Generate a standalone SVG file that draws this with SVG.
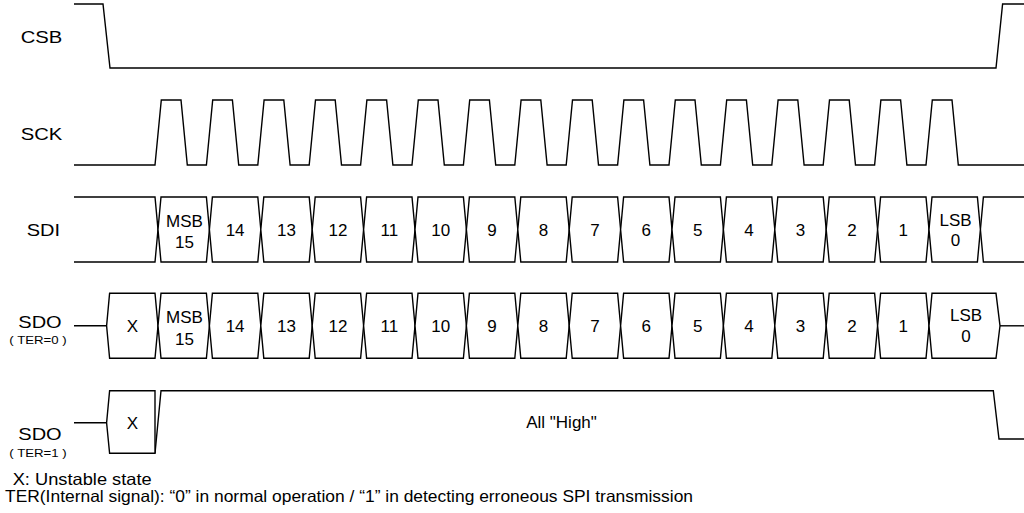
<svg xmlns="http://www.w3.org/2000/svg" xmlns:xlink="http://www.w3.org/1999/xlink" width="1024" height="513" viewBox="0 0 1024 513">
  <style>
    .w { fill: none; stroke: #000; stroke-width: 1.4; stroke-linejoin: miter; }
    .c { fill: #fff; stroke: #000; stroke-width: 1.4; }
    .lbl { font-family: "Liberation Sans", Arial, sans-serif; font-size: 17px; fill: #000; }
    .sub { font-family: "Liberation Sans", Arial, sans-serif; font-size: 11px; fill: #000; }
    .cl { font-family: "Liberation Sans", Arial, sans-serif; font-size: 17px; fill: #000; text-anchor: middle; }
    .ft { font-family: "Liberation Sans", Arial, sans-serif; font-size: 16.5px; fill: #000; }
  </style>
  <defs>
    <polygon id="cell" points="0,0 3,-32.5 48.4,-32.5 51.4,0 48.4,32.5 3,32.5"/>
  </defs>
  <rect width="1024" height="513" fill="#fff"/>

  <g id="labels">
    <text class="lbl" x="20.7" y="43.3" textLength="41.6" lengthAdjust="spacingAndGlyphs">CSB</text>
    <text class="lbl" x="20.7" y="140" textLength="41.6" lengthAdjust="spacingAndGlyphs">SCK</text>
    <text class="lbl" x="26.7" y="236" textLength="33.3" lengthAdjust="spacingAndGlyphs">SDI</text>
    <text class="lbl" x="18.3" y="328.3" textLength="43.4" lengthAdjust="spacingAndGlyphs">SDO</text>
    <text class="sub" x="9.3" y="344" textLength="57.4" lengthAdjust="spacingAndGlyphs">( TER=0 )</text>
    <text class="lbl" x="18.3" y="440" textLength="43.4" lengthAdjust="spacingAndGlyphs">SDO</text>
    <text class="sub" x="9.3" y="457.3" textLength="57.4" lengthAdjust="spacingAndGlyphs">( TER=1 )</text>
  </g>

  <g id="connectors">
    <g id="csb">
      <path class="w" d="M74,4 L103,4 L110,68 L996,68 L1002.6,4 L1024,4"/>
    </g>
    <g id="sck">
      <path class="w" d="M74,165 L155,165 L161.3,100 L181,100 L187.3,165 L206.4,165 L212.7,100 L232.4,100 L238.7,165 L257.8,165 L264.1,100 L283.8,100 L290.1,165 L309.2,165 L315.5,100 L335.2,100 L341.5,165 L360.6,165 L366.9,100 L386.6,100 L392.9,165 L412,165 L418.3,100 L438,100 L444.3,165 L463.4,165 L469.7,100 L489.4,100 L495.7,165 L514.8,165 L521.1,100 L540.8,100 L547.1,165 L566.2,165 L572.5,100 L592.2,100 L598.5,165 L617.6,165 L623.9,100 L643.6,100 L649.9,165 L669,165 L675.3,100 L695,100 L701.3,165 L720.4,165 L726.7,100 L746.4,100 L752.7,165 L771.8,165 L778.1,100 L797.8,100 L804.1,165 L823.2,165 L829.5,100 L849.2,100 L855.5,165 L874.6,165 L880.9,100 L900.6,100 L906.9,165 L926,165 L932.3,100 L952,100 L958.3,165 L1024,165"/>
    </g>
    <g id="sdi-wave">
      <path class="w" d="M74,197 L155,197 L158,229.5 L155,262 L74,262"/>
      <path class="w" d="M1024,197 L983.4,197 L980.4,229.5 L983.4,262 L1024,262"/>
    </g>
    <g id="sdo0-wave">
      <path class="w" d="M74,325.8 L106.6,325.8"/>
      <path class="w" d="M1000,325.8 L1024,325.8"/>
    </g>
    <g id="sdo1-wave">
      <path class="w" d="M74,422.7 L106.6,422.7"/>
      <path class="w" d="M155,453.3 L161,390.7 L993.3,390.7 L999,439 L1024,439"/>
    </g>
  </g>

  <g id="sdi">
    <use xlink:href="#cell" href="#cell" class="c" x="158" y="229.5"/>
    <use xlink:href="#cell" href="#cell" class="c" x="209.4" y="229.5"/>
    <use xlink:href="#cell" href="#cell" class="c" x="260.8" y="229.5"/>
    <use xlink:href="#cell" href="#cell" class="c" x="312.2" y="229.5"/>
    <use xlink:href="#cell" href="#cell" class="c" x="363.6" y="229.5"/>
    <use xlink:href="#cell" href="#cell" class="c" x="415" y="229.5"/>
    <use xlink:href="#cell" href="#cell" class="c" x="466.4" y="229.5"/>
    <use xlink:href="#cell" href="#cell" class="c" x="517.8" y="229.5"/>
    <use xlink:href="#cell" href="#cell" class="c" x="569.2" y="229.5"/>
    <use xlink:href="#cell" href="#cell" class="c" x="620.6" y="229.5"/>
    <use xlink:href="#cell" href="#cell" class="c" x="672" y="229.5"/>
    <use xlink:href="#cell" href="#cell" class="c" x="723.4" y="229.5"/>
    <use xlink:href="#cell" href="#cell" class="c" x="774.8" y="229.5"/>
    <use xlink:href="#cell" href="#cell" class="c" x="826.2" y="229.5"/>
    <use xlink:href="#cell" href="#cell" class="c" x="877.6" y="229.5"/>
    <use xlink:href="#cell" href="#cell" class="c" x="929" y="229.5"/>
    <text class="cl" x="184.5" y="226.5">MSB</text>
    <text class="cl" x="184.5" y="248">15</text>
    <text class="cl" x="235.1" y="236">14</text>
    <text class="cl" x="286.5" y="236">13</text>
    <text class="cl" x="337.9" y="236">12</text>
    <text class="cl" x="389.3" y="236">11</text>
    <text class="cl" x="440.7" y="236">10</text>
    <text class="cl" x="492.1" y="236">9</text>
    <text class="cl" x="543.5" y="236">8</text>
    <text class="cl" x="594.9" y="236">7</text>
    <text class="cl" x="646.3" y="236">6</text>
    <text class="cl" x="697.7" y="236">5</text>
    <text class="cl" x="749.1" y="236">4</text>
    <text class="cl" x="800.5" y="236">3</text>
    <text class="cl" x="851.9" y="236">2</text>
    <text class="cl" x="903.3" y="236">1</text>
    <text class="cl" x="955.5" y="225.5">LSB</text>
    <text class="cl" x="955.5" y="246">0</text>
  </g>

  <g id="sdo0">
    <use xlink:href="#cell" href="#cell" class="c" x="106.6" y="325.8"/>
    <use xlink:href="#cell" href="#cell" class="c" x="158" y="325.8"/>
    <use xlink:href="#cell" href="#cell" class="c" x="209.4" y="325.8"/>
    <use xlink:href="#cell" href="#cell" class="c" x="260.8" y="325.8"/>
    <use xlink:href="#cell" href="#cell" class="c" x="312.2" y="325.8"/>
    <use xlink:href="#cell" href="#cell" class="c" x="363.6" y="325.8"/>
    <use xlink:href="#cell" href="#cell" class="c" x="415" y="325.8"/>
    <use xlink:href="#cell" href="#cell" class="c" x="466.4" y="325.8"/>
    <use xlink:href="#cell" href="#cell" class="c" x="517.8" y="325.8"/>
    <use xlink:href="#cell" href="#cell" class="c" x="569.2" y="325.8"/>
    <use xlink:href="#cell" href="#cell" class="c" x="620.6" y="325.8"/>
    <use xlink:href="#cell" href="#cell" class="c" x="672" y="325.8"/>
    <use xlink:href="#cell" href="#cell" class="c" x="723.4" y="325.8"/>
    <use xlink:href="#cell" href="#cell" class="c" x="774.8" y="325.8"/>
    <use xlink:href="#cell" href="#cell" class="c" x="826.2" y="325.8"/>
    <use xlink:href="#cell" href="#cell" class="c" x="877.6" y="325.8"/>
    <polygon class="c" points="929,325.8 932,293.3 996,293.3 1000,325.8 996,358.3 932,358.3"/>
    <text class="cl" x="132.3" y="332">X</text>
    <text class="cl" x="184.5" y="323">MSB</text>
    <text class="cl" x="184.5" y="344.5">15</text>
    <text class="cl" x="235.1" y="332.3">14</text>
    <text class="cl" x="286.5" y="332.3">13</text>
    <text class="cl" x="337.9" y="332.3">12</text>
    <text class="cl" x="389.3" y="332.3">11</text>
    <text class="cl" x="440.7" y="332.3">10</text>
    <text class="cl" x="492.1" y="332.3">9</text>
    <text class="cl" x="543.5" y="332.3">8</text>
    <text class="cl" x="594.9" y="332.3">7</text>
    <text class="cl" x="646.3" y="332.3">6</text>
    <text class="cl" x="697.7" y="332.3">5</text>
    <text class="cl" x="749.1" y="332.3">4</text>
    <text class="cl" x="800.5" y="332.3">3</text>
    <text class="cl" x="851.9" y="332.3">2</text>
    <text class="cl" x="903.3" y="332.3">1</text>
    <text class="cl" x="966" y="320.5">LSB</text>
    <text class="cl" x="966" y="342">0</text>
  </g>

  <g id="sdo1">
    <path class="c" d="M106.6,422.7 L109.6,390.7 L155,390.7 L155,453.3 L109.6,453.3 Z"/>
    <text class="cl" x="132.3" y="429">X</text>
    <text class="cl" x="561.5" y="428">All "High"</text>
  </g>

  <g id="notes">
    <text class="ft" x="12.7" y="485" textLength="139" lengthAdjust="spacingAndGlyphs">X: Unstable state</text>
    <text class="ft" x="5" y="502.3" textLength="688" lengthAdjust="spacingAndGlyphs">TER(Internal signal): “0” in normal operation / “1” in detecting erroneous SPI transmission</text>
  </g>
</svg>
